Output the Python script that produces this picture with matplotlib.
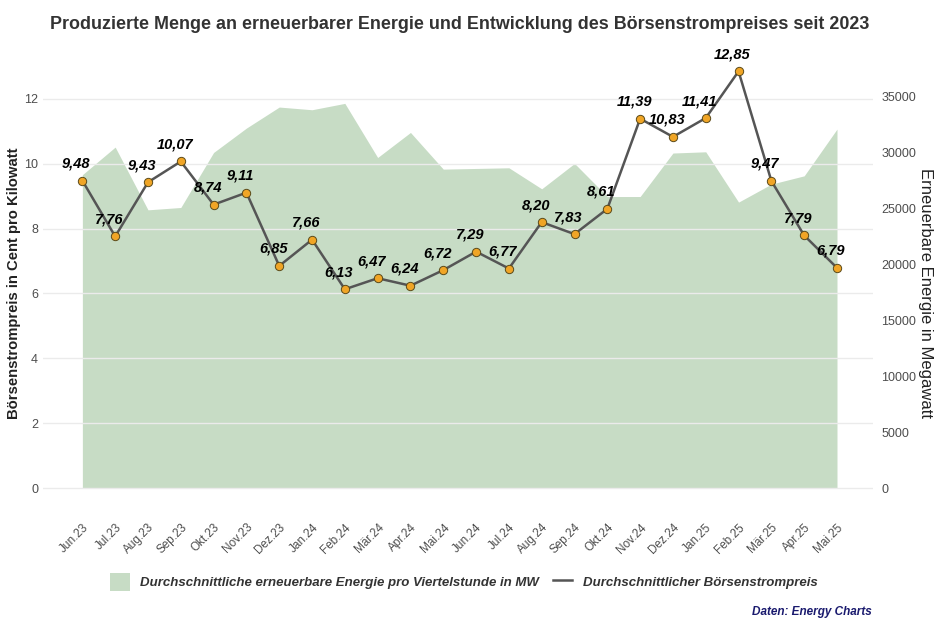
import matplotlib.pyplot as plt
import matplotlib.transforms as mtransforms
import numpy as np
from matplotlib.patches import Patch
from matplotlib.lines import Line2D

plt.rcParams['font.family'] = ['Liberation Sans', 'DejaVu Sans']

monate = ['Jun.23', 'Jul.23', 'Aug.23', 'Sep.23', 'Okt.23', 'Nov.23', 'Dez.23',
          'Jan.24', 'Feb.24', 'Mär.24', 'Apr.24', 'Mai.24', 'Jun.24', 'Jul.24',
          'Aug.24', 'Sep.24', 'Okt.24', 'Nov.24', 'Dez.24', 'Jan.25', 'Feb.25',
          'Mär.25', 'Apr.25', 'Mai.25']
preis = [9.48, 7.76, 9.43, 10.07, 8.74, 9.11, 6.85, 7.66, 6.13, 6.47, 6.24, 6.72,
         7.29, 6.77, 8.20, 7.83, 8.61, 11.39, 10.83, 11.41, 12.85, 9.47, 7.79, 6.79]
energie_mw = [28020, 30490, 24880, 25090, 30010, 32190, 34070, 33830, 34400, 29560,
              31800, 28520, 28580, 28640, 26760, 29030, 26070, 26070, 29960, 30070,
              25570, 27180, 27920, 32100]

faktor = 2900  # sekundaerachse: MW pro Cent
x = np.arange(len(monate))

fig = plt.figure(figsize=(9.39, 6.26), dpi=100)
ax = fig.add_axes([0.0458, 0.1872, 0.884, 0.732])
ax2 = ax.twinx()

ylim = (-0.64, 13.49)
ax.set_ylim(ylim)
ax2.set_ylim(ylim[0] * faktor, ylim[1] * faktor)
ax.set_xlim(-1.2, len(monate) - 1 + 1.1)

# flaeche auf der rechten achse
ax2.fill_between(x, 0, energie_mw, color='#c7dcc5', lw=0, zorder=1)
ax2.set_zorder(1)
ax.set_zorder(2)
ax.patch.set_visible(False)

ax.plot(x, preis, color='#555555', lw=1.8, zorder=3)
ax.scatter(x, preis, s=36, color='#f0a526', edgecolor='#5a4a1a', lw=0.7, zorder=4)

for i, p in enumerate(preis):
    ax.annotate(f'{p:.2f}'.replace('.', ','), (x[i], p), xytext=(-6, 17),
                textcoords='offset pixels', ha='center', va='center',
                fontsize=10.5, fontweight='bold', style='italic', color='black', zorder=5)

ax.set_yticks(np.arange(0, 13, 2))
ax2.set_yticks(np.arange(0, 35001, 5000))
ax.set_xticks(x)
ax.set_xticklabels(monate, rotation=45, ha='right', va='top', rotation_mode='anchor')
verschiebung = mtransforms.ScaledTranslation(5 / 100, 0, fig.dpi_scale_trans)
for lab in ax.get_xticklabels():
    lab.set_transform(lab.get_transform() + verschiebung)
ax.grid(axis='y', color='#ebebeb', lw=1)
ax.tick_params(axis='both', length=0, labelsize=9, colors='#4d4d4d')
ax.tick_params(axis='x', labelsize=8.5, pad=9)
ax2.tick_params(axis='y', length=0, labelsize=9, colors='#4d4d4d', pad=6)
for a in (ax, ax2):
    for s in a.spines.values():
        s.set_visible(False)

ax.set_ylabel('Börsenstrompreis in Cent pro Kilowatt', fontsize=10.7, fontweight='bold',
              color='#222222', va='center')
ax.yaxis.set_label_coords(-0.035, 0.493)
ax2.set_ylabel('Erneuerbare Energie in Megawatt', fontsize=12, fontweight='normal',
               color='#222222', rotation=270, va='center')
ax2.yaxis.set_label_coords(1.063, 0.47)

fig.suptitle('Produzierte Menge an erneuerbarer Energie und Entwicklung des Börsenstrompreises seit 2023',
             x=0.49, y=0.975, fontsize=12.9, fontweight='bold', color='#333333')

handles = [Patch(facecolor='#c7dcc5', edgecolor='none'),
           Line2D([0], [0], color='#555555', lw=1.8)]
labels = ['Durchschnittliche erneuerbare Energie pro Viertelstunde in MW',
          'Durchschnittlicher Börsenstrompreis']
fig.legend(handles, labels, loc='center', bbox_to_anchor=(0.494, 0.07), ncol=2,
           frameon=False, prop={'size': 9.5, 'weight': 'bold', 'style': 'italic'},
           labelcolor='#333333', handlelength=1.5, handleheight=1.7, columnspacing=1.0,
           handletextpad=0.8)

fig.text(0.928, 0.022, 'Daten: Energy Charts', ha='right', va='center', fontsize=8.5,
         fontweight='bold', style='italic', color='#1a1a6e')

fig.savefig('out.png', dpi=100)
